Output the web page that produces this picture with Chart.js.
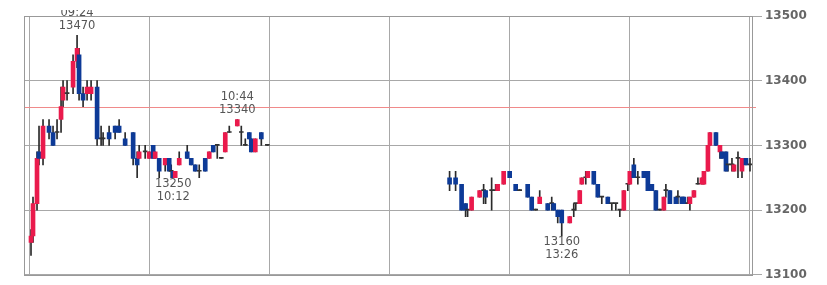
<!DOCTYPE html>
<html>
<head>
<meta charset="utf-8">
<script src="https://cdn.jsdelivr.net/npm/chart.js@4"></script>
<style>
  html, body { margin: 0; padding: 0; background: #fff; }
  canvas { display: block; }
</style>
</head>
<body>
<canvas id="chart" width="827" height="285"></canvas>
<script>
// intraday candles (morning session, then afternoon session)
const times = [
  '9:01','9:02','9:04','9:05','9:07','9:10','9:12','9:14','9:16','9:17',
  '9:19','9:22','9:24','9:25','9:27','9:29','9:31','9:34','9:36','9:37',
  '9:40','9:43','9:45','9:48','9:52','9:54','9:55','9:58','10:00','10:02',
  '10:03','10:05','10:08','10:10','10:11','10:12','10:13','10:15','10:19','10:21',
  '10:23','10:25','10:28','10:30','10:32','10:34','10:36','10:38','10:40','10:44',
  '10:46','10:48','10:50','10:51','10:53','10:56','10:59',
  '12:30','12:33','12:36','12:38','12:39','12:41','12:45','12:47','12:48','12:51',
  '12:53','12:54','12:57','13:00','13:03','13:05','13:09','13:11','13:13','13:15',
  '13:19','13:21','13:22','13:24','13:26','13:30','13:32','13:33','13:35','13:36',
  '13:38','13:39','13:42','13:44','13:46','13:49','13:51','13:53','13:55','13:57',
  '13:59','14:00','14:02','14:04','14:07','14:09','14:11','14:13','14:15','14:17',
  '14:18','14:20','14:23','14:24','14:26','14:27','14:29','14:30','14:32','14:34',
  '14:36','14:37','14:39','14:40','14:43','14:45','14:46','14:48','14:49','14:51',
  '14:52','14:54','14:56','14:58','15:00',
];
const opens = [
  13150,13160,13210,13290,13280,13330,13320,13320,13340,13370,
  13380,13390,13430,13440,13380,13380,13380,13390,13310,13310,
  13320,13330,13330,13310,13320,13280,13280,13290,13280,13300,
  13280,13280,13270,13280,13260,13260,13250,13270,13290,13280,
  13270,13260,13280,13280,13300,13300,13280,13290,13320,13330,
  13320,13300,13320,13310,13290,13320,13300,
  13250,13250,13240,13210,13200,13200,13220,13230,13230,13230,
  13230,13230,13240,13260,13240,13230,13240,13220,13200,13210,
  13210,13210,13210,13200,13200,13180,13200,13210,13210,13240,
  13250,13250,13260,13240,13220,13220,13210,13210,13200,13200,
  13240,13240,13270,13250,13260,13260,13240,13230,13200,13200,
  13230,13230,13220,13220,13220,13220,13210,13210,13220,13240,
  13240,13240,13260,13300,13320,13290,13290,13290,13270,13270,
  13260,13280,13260,13280,13270,
];
const highs = [
  13170,13220,13290,13330,13340,13340,13330,13340,13390,13400,
  13400,13440,13470,13450,13390,13400,13400,13400,13330,13320,
  13330,13330,13340,13320,13320,13290,13300,13300,13290,13300,
  13290,13280,13280,13280,13270,13260,13260,13290,13300,13280,
  13270,13270,13280,13290,13300,13300,13280,13320,13330,13340,
  13330,13310,13320,13310,13310,13320,13300,
  13260,13260,13240,13210,13200,13220,13230,13240,13230,13250,
  13240,13240,13260,13260,13240,13230,13240,13220,13200,13230,
  13210,13220,13210,13200,13200,13190,13210,13210,13230,13250,
  13260,13260,13260,13240,13220,13220,13210,13210,13200,13230,
  13240,13260,13280,13260,13260,13260,13240,13230,13200,13220,
  13240,13230,13220,13230,13220,13220,13220,13220,13230,13250,
  13250,13260,13300,13320,13320,13300,13290,13290,13270,13280,
  13270,13290,13280,13280,13280,
];
const lows = [
  13130,13150,13200,13270,13270,13310,13300,13310,13320,13360,
  13370,13380,13420,13370,13360,13370,13370,13300,13300,13300,
  13300,13310,13320,13300,13270,13250,13280,13280,13280,13280,
  13280,13250,13260,13260,13250,13250,13250,13270,13280,13270,
  13260,13250,13260,13280,13290,13280,13280,13290,13320,13330,
  13300,13300,13310,13290,13290,13300,13300,
  13230,13230,13200,13190,13190,13200,13220,13210,13210,13200,
  13230,13230,13240,13250,13230,13230,13220,13200,13200,13210,
  13200,13200,13200,13180,13160,13180,13190,13200,13210,13240,
  13240,13250,13240,13220,13210,13210,13200,13200,13190,13200,
  13230,13240,13250,13240,13250,13230,13230,13200,13200,13200,
  13220,13210,13210,13210,13210,13210,13210,13200,13220,13240,
  13240,13240,13260,13300,13300,13280,13280,13260,13260,13260,
  13260,13250,13250,13270,13260,
];
const closes = [
  13160,13210,13280,13280,13330,13320,13300,13320,13360,13390,
  13380,13430,13450,13380,13370,13390,13390,13310,13310,13310,
  13310,13320,13320,13300,13280,13270,13290,13290,13290,13280,
  13290,13260,13280,13260,13260,13250,13260,13280,13280,13270,
  13260,13260,13260,13290,13290,13300,13280,13320,13320,13340,
  13320,13300,13310,13290,13310,13310,13300,
  13240,13240,13200,13200,13200,13220,13230,13230,13220,13230,
  13230,13240,13260,13250,13230,13230,13220,13200,13200,13220,
  13200,13210,13200,13190,13180,13190,13200,13210,13230,13250,
  13250,13260,13240,13220,13220,13210,13210,13210,13200,13230,
  13240,13260,13250,13250,13250,13230,13230,13200,13200,13220,
  13230,13210,13210,13220,13210,13210,13210,13220,13230,13240,
  13250,13260,13300,13320,13300,13300,13280,13260,13270,13270,
  13270,13280,13280,13270,13270,
];

const prevClose = 13360;
const hourTicks = ['9:00','10:00','11:00','12:00','13:00','14:00','15:00'];
const priceTicks = [13100, 13200, 13300, 13400, 13500];

// high / low call-outs
const markTimes = ['9:24', '10:12', '10:44', '13:26'];
const markValues = [13470, 13250, 13340, 13160];
const markAbove = [true, false, true, false];

const COLORS = {
  up: '#ea1a4c',
  down: '#0d3a97',
  flat: '#333',
  wick: '#2a2a2a',
  grid: '#a8a8a8',
  frame: '#999',
  ref: '#f08a8a',
  tick: '#666',
  note: '#555',
};

function toMin(t) {
  const [h, m] = t.split(':').map(Number);
  return (h - 9) * 60 + m;
}
function pad2(n) { return (n < 10 ? '0' : '') + n; }
function fmtTime(t) {
  const [h, m] = t.split(':').map(Number);
  return pad2(h) + ':' + pad2(m);
}

const wickData = times.map((t, i) => ({ x: toMin(t), y: [lows[i], highs[i]] }));
const bodyData = times.map((t, i) => ({ x: toMin(t), y: [opens[i], closes[i]] }));
const bodyColors = times.map((t, i) =>
  closes[i] > opens[i] ? COLORS.up : closes[i] < opens[i] ? COLORS.down : COLORS.flat);

const framePlugin = {
  id: 'frame',
  beforeDatasetsDraw(chart) {
    const { ctx, chartArea: a, scales } = chart;
    ctx.save();
    // previous close line
    const y = Math.round(scales.y.getPixelForValue(prevClose)) + 0.5;
    ctx.strokeStyle = COLORS.ref;
    ctx.lineWidth = 1;
    ctx.beginPath();
    ctx.moveTo(a.left, y);
    ctx.lineTo(a.right + 4, y);
    ctx.stroke();
    // plot frame
    ctx.strokeStyle = COLORS.frame;
    ctx.strokeRect(Math.round(a.left) + 0.5, Math.round(a.top) + 0.5,
      Math.round(a.right - a.left), Math.round(a.bottom - a.top));
    ctx.restore();
  },
  afterDatasetsDraw(chart) {
    const { ctx, scales } = chart;
    ctx.save();
    ctx.beginPath();
    ctx.rect(0, 10, chart.width, chart.height);
    ctx.clip();
    ctx.font = '11.5px "DejaVu Sans", sans-serif';
    ctx.fillStyle = COLORS.note;
    ctx.textAlign = 'center';
    ctx.textBaseline = 'middle';
    markTimes.forEach((t, i) => {
      const x = scales.x.getPixelForValue(toMin(t));
      const y = scales.y.getPixelForValue(markValues[i]);
      const val = String(markValues[i]);
      const tm = fmtTime(t);
      if (markAbove[i]) {
        ctx.fillText(val, x, y - 9.5);
        ctx.fillText(tm, x, y - 22.5);
      } else {
        ctx.fillText(val, x, y + 6.5);
        ctx.fillText(tm, x, y + 19.5);
      }
    });
    ctx.restore();
  },
};

new Chart(document.getElementById('chart'), {
  type: 'bar',
  data: {
    datasets: [
      {
        label: 'wick', data: wickData, backgroundColor: COLORS.wick,
        barThickness: 1, grouped: false, order: 2, minBarLength: 1,
      },
      {
        label: 'body', data: bodyData, backgroundColor: bodyColors,
        barThickness: 4, grouped: false, order: 1, minBarLength: 1,
      },
    ],
  },
  options: {
    responsive: false,
    animation: false,
    events: [],
    layout: { padding: { left: 24, top: 16, bottom: 10, right: 0 } },
    plugins: { legend: { display: false }, tooltip: { enabled: false } },
    scales: {
      x: {
        type: 'linear', min: -2.5, max: 361, offset: false,
        afterBuildTicks: s => { s.ticks = hourTicks.map(t => ({ value: toMin(t) })); },
        afterFit: s => { s.height = 0; },
        ticks: { display: false },
        grid: { color: COLORS.grid, drawTicks: false, offset: false },
        border: { display: false },
      },
      y: {
        position: 'right', min: 13100, max: 13500,
        afterBuildTicks: s => { s.ticks = priceTicks.map(v => ({ value: v })); },
        afterFit: s => { s.width = 75; },
        ticks: {
          color: COLORS.tick, padding: 3,
          font: { family: '"DejaVu Sans", sans-serif', size: 12, weight: 'bold' },
          callback: v => String(v),
        },
        grid: { color: COLORS.grid, tickLength: 10 },
        border: { color: COLORS.frame },
      },
    },
  },
  plugins: [framePlugin],
});
</script>
</body>
</html>
